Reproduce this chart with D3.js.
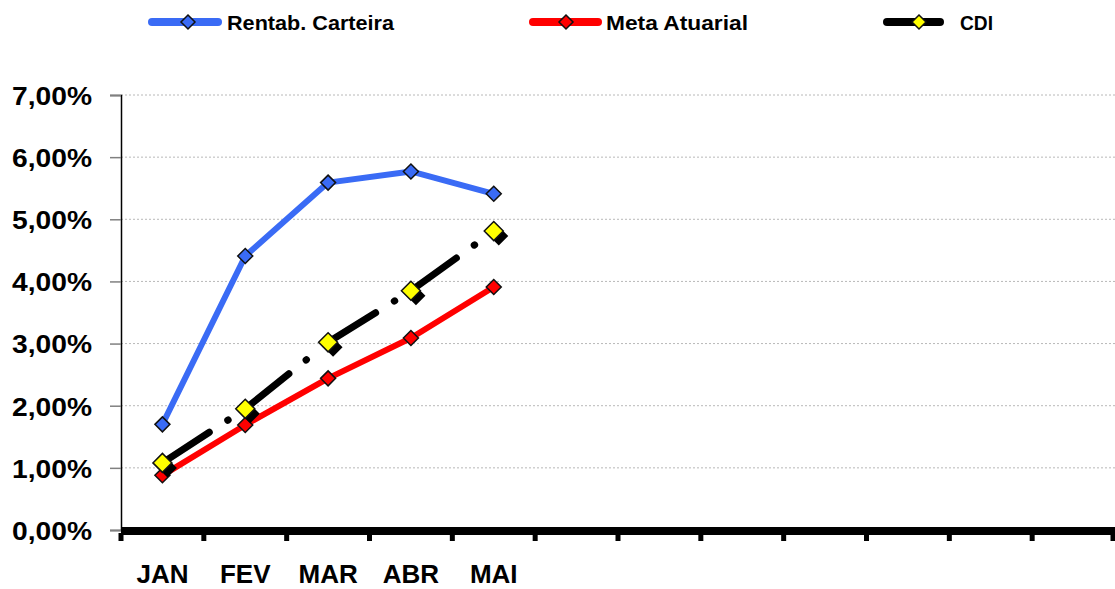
<!DOCTYPE html>
<html>
<head>
<meta charset="utf-8">
<script src="https://cdn.jsdelivr.net/npm/d3@7/dist/d3.min.js"></script>
<style>
  body { margin: 0; background: #fff; }
  text { font-family: "Liberation Sans", Arial, sans-serif; font-weight: bold; fill: #000; }
</style>
</head>
<body>
<div class="chart"></div>
<script>
var svgWidth = 1115;
var svgHeight = 589;

// categories (whole year, only the first months have data)
var months = ["JAN", "FEV", "MAR", "ABR", "MAI", "JUN", "JUL", "AGO", "SET", "OUT", "NOV", "DEZ"];
var monthLabels = ["JAN", "FEV", "MAR", "ABR", "MAI", "", "", "", "", "", "", ""];
var yTicks = [0, 0.01, 0.02, 0.03, 0.04, 0.05, 0.06, 0.07];

// series values (accumulated %)
var rentab = [0.0170, 0.0441, 0.0559, 0.0577, 0.0541];
var meta = [0.0088, 0.0169, 0.0244, 0.0309, 0.0391];
var cdi = [0.0108, 0.0195, 0.0302, 0.0385, 0.0481];

var seriesNames = ["Rentab. Carteira", "Meta Atuarial", "CDI"];

var svg = d3.select(".chart")
    .append("svg")
    .attr("width", svgWidth)
    .attr("height", svgHeight);

var xScale = d3.scaleBand()
    .domain(months)
    .range([121, 1115]);

var yScale = d3.scaleLinear()
    .domain([0, 0.07])
    .range([530, 95]);

function cx(i) { return xScale(months[i]) + xScale.bandwidth() / 2; }

// gridlines
svg.append("g")
    .selectAll("line")
    .data(yTicks.slice(1))
    .join("line")
    .attr("x1", 121)
    .attr("x2", 1115)
    .attr("y1", d => yScale(d))
    .attr("y2", d => yScale(d))
    .attr("stroke", "#b8b8b8")
    .attr("stroke-width", 1)
    .attr("stroke-dasharray", "2,2");

// y axis
var fmt = d => d3.format(".2f")(d * 100).replace(".", ",") + "%";
var yAxis = svg.append("g")
    .attr("transform", "translate(121,0)")
    .call(d3.axisLeft(yScale).tickValues(yTicks).tickFormat(fmt).tickSize(11).tickPadding(18));
yAxis.select(".domain").attr("stroke", "#000").attr("stroke-width", 1.5);
yAxis.selectAll(".tick line").attr("stroke", "#808080").attr("stroke-width", 1.5);
yAxis.selectAll(".tick text")
    .style("font-size", "26px")
    .style("font-family", "'Liberation Sans', Arial, sans-serif")
    .style("font-weight", "bold")
    .attr("fill", "#000")
    .attr("textLength", 80)
    .attr("lengthAdjust", "spacingAndGlyphs")
    .attr("dy", "0.36em");

// x axis: thick line, tick marks at category boundaries, labels at centers
var xAxis = svg.append("g")
    .attr("transform", "translate(0,535)")
    .call(d3.axisBottom(xScale).tickSize(0).tickPadding(30).tickFormat((d, i) => monthLabels[i]));
xAxis.select(".domain").remove();
xAxis.selectAll(".tick text")
    .style("font-size", "26px")
    .style("font-family", "'Liberation Sans', Arial, sans-serif")
    .style("font-weight", "bold")
    .attr("fill", "#000");

var bounds = months.map(m => xScale(m)).concat([xScale.range()[1] - 2]);
svg.append("g")
    .selectAll("rect")
    .data(bounds)
    .join("rect")
    .attr("x", d => d - 2.5)
    .attr("y", 533)
    .attr("width", 5)
    .attr("height", 8)
    .attr("fill", "#000");

svg.append("line")
    .attr("x1", 121)
    .attr("x2", 1115)
    .attr("y1", 531)
    .attr("y2", 531)
    .attr("stroke", "#000")
    .attr("stroke-width", 8);

// lines
var line = d3.line()
    .x((d, i) => cx(i))
    .y(d => yScale(d));

function diamond(r) {
    return `M0,${-r}L${r},0L0,${r}L${-r},0Z`;
}

svg.append("path")
    .datum(rentab)
    .attr("d", line)
    .attr("fill", "none")
    .attr("stroke", "#3A6BF5")
    .attr("stroke-width", 6)
    .attr("stroke-linejoin", "round");

svg.append("path")
    .datum(meta)
    .attr("d", line)
    .attr("fill", "none")
    .attr("stroke", "#FF0000")
    .attr("stroke-width", 6)
    .attr("stroke-linejoin", "round");

// CDI dash-dot line, one path per segment so the pattern restarts like the original
var cdiSegs = d3.pairs(cdi.map((v, i) => [cx(i), yScale(v)]));
svg.append("g")
    .selectAll("path")
    .data(cdiSegs)
    .join("path")
    .attr("d", d => d3.line()(d))
    .attr("fill", "none")
    .attr("stroke", "#000")
    .attr("stroke-width", 7)
    .attr("stroke-linecap", "round")
    .attr("stroke-dasharray", "56,22,0.5,24");

// markers
svg.append("g")
    .selectAll("path")
    .data(rentab)
    .join("path")
    .attr("transform", (d, i) => `translate(${cx(i)},${yScale(d)})`)
    .attr("d", diamond(7.5))
    .attr("fill", "#3A6BF5")
    .attr("stroke", "#111")
    .attr("stroke-width", 1.5);

svg.append("g")
    .selectAll("path")
    .data(meta)
    .join("path")
    .attr("transform", (d, i) => `translate(${cx(i)},${yScale(d)})`)
    .attr("d", diamond(7.5))
    .attr("fill", "#FF0000")
    .attr("stroke", "#111")
    .attr("stroke-width", 1.5);

// CDI markers with dark shadow
svg.append("g")
    .selectAll("path")
    .data(cdi)
    .join("path")
    .attr("transform", (d, i) => `translate(${cx(i) + 5},${yScale(d) + 5})`)
    .attr("d", diamond(9.5))
    .attr("fill", "#000");

svg.append("g")
    .selectAll("path")
    .data(cdi)
    .join("path")
    .attr("transform", (d, i) => `translate(${cx(i)},${yScale(d)})`)
    .attr("d", diamond(9.5))
    .attr("fill", "#FFFF00")
    .attr("stroke", "#111")
    .attr("stroke-width", 1.5);

// legend
var legendItems = [
    { name: seriesNames[0], color: "#3A6BF5", mark: "#3A6BF5", x1: 152, x2: 218, mx: 188, tx: 227, tw: 167 },
    { name: seriesNames[1], color: "#FF0000", mark: "#FF0000", x1: 533, x2: 598, mx: 566, tx: 606, tw: 142 },
    { name: seriesNames[2], color: "#000", mark: "#FFFF00", x1: 887, x2: 940, mx: 919, tx: 960, tw: 33 }
];

var legend = svg.append("g");
legendItems.forEach(function (it) {
    legend.append("line")
        .attr("x1", it.x1).attr("x2", it.x2)
        .attr("y1", 22).attr("y2", 22)
        .attr("stroke", it.color)
        .attr("stroke-width", 8)
        .attr("stroke-linecap", "round");
    legend.append("path")
        .attr("transform", `translate(${it.mx},22)`)
        .attr("d", diamond(7))
        .attr("fill", it.mark)
        .attr("stroke", "#111")
        .attr("stroke-width", 1.5);
    legend.append("text")
        .attr("x", it.tx)
        .attr("y", 30)
        .style("font-size", "21px")
        .attr("textLength", it.tw)
        .attr("lengthAdjust", "spacingAndGlyphs")
        .text(it.name);
});
</script>
</body>
</html>
